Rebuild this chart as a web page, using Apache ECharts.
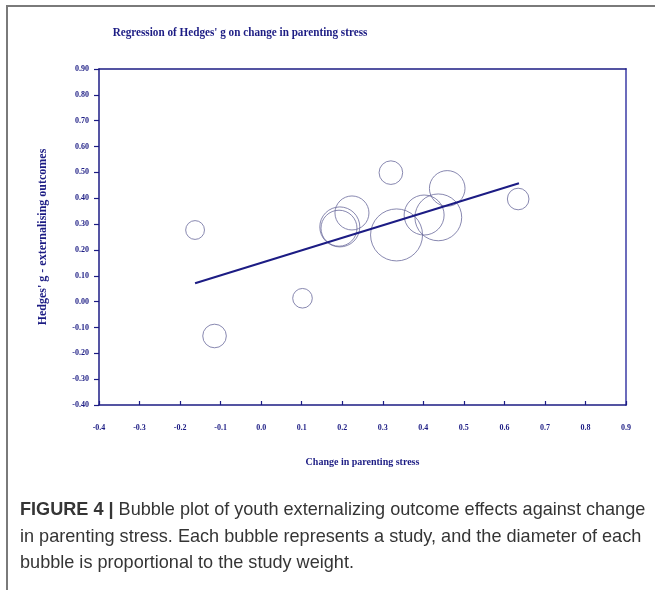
<!DOCTYPE html>
<html>
<head>
<meta charset="utf-8">
<script src="https://cdn.jsdelivr.net/npm/echarts@6/dist/echarts.min.js"></script>
<style>
  html, body { margin: 0; padding: 0; background: #fff; }
  #chart { width: 655px; height: 590px; }
</style>
</head>
<body>
<div id="chart"></div>
<script>
// Study-level effects: change in parenting stress vs Hedges' g
const stressChange = [-0.163, -0.115, 0.102, 0.194, 0.192, 0.224, 0.320, 0.334, 0.402, 0.437, 0.459, 0.634];
const hedgesG      = [0.277, -0.133, 0.013, 0.289, 0.284, 0.343, 0.499, 0.258, 0.335, 0.326, 0.438, 0.397];
// Relative study weights (bubble diameter is proportional to weight)
const studyWeight  = [4.7, 5.9, 4.9, 10.0, 9.0, 8.5, 5.9, 13.0, 10.0, 11.7, 8.9, 5.4];

// Fitted regression line end points
const fitX = [-0.163, 0.636];
const fitY = [0.071, 0.458];

// Axis ranges and ticks
const xRange = { min: -0.4, max: 0.9, step: 0.1 };
const yRange = { min: -0.4, max: 0.9, step: 0.1 };

const navy = '#1c1c84';
const bubbleEdge = '#6a6a9c';
const serif = '"Liberation Serif", "Times New Roman", serif';
const sans = '"Liberation Sans", Arial, sans-serif';

const bubbles = stressChange.map((x, i) => [x, hedgesG[i], studyWeight[i]]);
const fitLine = fitX.map((x, i) => [x, fitY[i]]);

const chart = echarts.init(document.getElementById('chart'), null, { renderer: 'canvas' });

chart.setOption({
  animation: false,
  backgroundColor: '#fff',
  grid: { left: 99, right: 29, top: 69, bottom: 185, containLabel: false },
  xAxis: [{
    type: 'value',
    min: xRange.min, max: xRange.max, interval: xRange.step,
    name: 'Change in parenting stress',
    nameLocation: 'middle',
    nameGap: 52,
    nameTextStyle: { fontFamily: serif, fontWeight: 'bold', fontSize: 10, color: navy },
    axisLine: { show: true, onZero: false, lineStyle: { color: navy, width: 1.5 } },
    axisTick: { show: true, inside: true, length: 4, lineStyle: { color: navy, width: 1.2 } },
    axisLabel: {
      margin: 19,
      fontFamily: serif, fontWeight: 'bold', fontSize: 8, color: navy,
      formatter: v => v.toFixed(1)
    },
    splitLine: { show: false }
  }, {
    type: 'value', position: 'top',
    min: xRange.min, max: xRange.max,
    axisLine: { show: true, onZero: false, lineStyle: { color: navy, width: 1.5 } },
    axisTick: { show: false }, axisLabel: { show: false }, splitLine: { show: false }
  }],
  yAxis: [{
    type: 'value',
    min: yRange.min, max: yRange.max, interval: yRange.step,
    name: "Hedges' g - externalising outcomes",
    nameLocation: 'middle',
    nameGap: 50,
    nameTextStyle: { fontFamily: serif, fontWeight: 'bold', fontSize: 12, color: navy },
    axisLine: { show: true, onZero: false, lineStyle: { color: navy, width: 1.5 } },
    axisTick: { show: true, inside: false, length: 5, lineStyle: { color: navy, width: 1.2 } },
    axisLabel: {
      margin: 10,
      fontFamily: serif, fontWeight: 'bold', fontSize: 8, color: navy,
      formatter: v => v.toFixed(2)
    },
    splitLine: { show: false }
  }, {
    type: 'value', position: 'right',
    min: yRange.min, max: yRange.max,
    axisLine: { show: true, onZero: false, lineStyle: { color: '#6c6cbc', width: 2 } },
    axisTick: { show: false }, axisLabel: { show: false }, splitLine: { show: false }
  }],
  series: [{
    type: 'scatter',
    data: bubbles,
    symbol: 'circle',
    symbolSize: d => d[2] * 4,
    itemStyle: { color: 'rgba(255,255,255,0)', borderColor: bubbleEdge, borderWidth: 1 },
    z: 2
  }, {
    type: 'line',
    data: fitLine,
    symbol: 'none',
    lineStyle: { color: navy, width: 2 },
    z: 3
  }],
  graphic: [{
    type: 'polyline',
    shape: { points: [[7, 590], [7, 6], [655, 6]] },
    style: { stroke: '#7a7a7a', lineWidth: 2, fill: null }
  }, {
    // chart title, set in a narrow bold serif
    type: 'text',
    x: 240,
    y: 33,
    scaleX: 0.86,
    style: {
      text: "Regression of Hedges' g on change in parenting stress",
      x: 0, y: 0,
      align: 'center',
      verticalAlign: 'middle',
      font: 'bold 13px ' + serif,
      fill: navy
    }
  }, {
    type: 'text',
    left: 20,
    top: 497,
    style: {
      text: '{b|FIGURE 4 | }Bubble plot of youth externalizing outcome effects against change\nin parenting stress. Each bubble represents a study, and the diameter of each\nbubble is proportional to the study weight.',
      font: '18.1px ' + sans,
      fill: '#353535',
      lineHeight: 26.5,
      rich: {
        b: { fontWeight: 'bold', fontSize: 18.1, fontFamily: sans, fill: '#353535', lineHeight: 26.5 }
      }
    }
  }]
});
</script>
</body>
</html>
